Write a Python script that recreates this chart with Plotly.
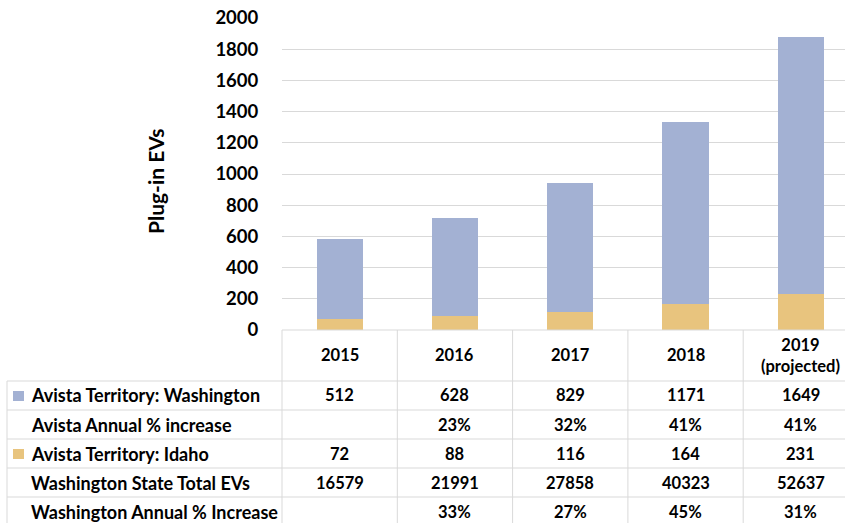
import plotly.graph_objects as go

# ---- data ----
years = ["2015", "2016", "2017", "2018", "2019"]
year_labels = ["2015", "2016", "2017", "2018", "2019<br>(projected)"]
avista_wa = [512, 628, 829, 1171, 1649]
avista_pct = ["", "23%", "32%", "41%", "41%"]
avista_id = [72, 88, 116, 164, 231]
wa_state_total = [16579, 21991, 27858, 40323, 52637]
wa_state_pct = ["", "33%", "27%", "45%", "31%"]
y_ticks = [0, 200, 400, 600, 800, 1000, 1200, 1400, 1600, 1800, 2000]

row_labels = ["Avista Territory: Washington", "Avista Annual % increase",
              "Avista Territory: Idaho", "Washington State Total EVs",
              "Washington Annual % Increase"]

BLUE = "#A3B1D3"
TAN = "#E8C47E"
GRID = "#D9D9D9"
FONT = "Lato"

W, H = 845, 523
def py(y):
    return 1 - y / H
def px(x):
    return x / W

xs = list(range(len(years)))

fig = go.Figure()
fig.add_trace(go.Bar(x=xs, y=avista_id, marker=dict(color=TAN, line=dict(width=0)),
                     width=0.4, name="Avista Territory: Idaho", showlegend=False,
                     hoverinfo="skip"))
fig.add_trace(go.Bar(x=xs, y=avista_wa, marker=dict(color=BLUE, line=dict(width=0)),
                     width=0.4, name="Avista Territory: Washington", showlegend=False,
                     hoverinfo="skip"))

plot_left = 282
cat_w = 115.3
x_right = (W - (plot_left + cat_w / 2)) / cat_w

fig.update_layout(
    barmode="stack",
    width=W, height=H,
    autosize=False,
    margin=dict(l=0, r=0, t=0, b=0, pad=0),
    paper_bgcolor="white", plot_bgcolor="white",
    font=dict(family=FONT, color="black"),
    xaxis=dict(domain=[px(plot_left), 1], range=[-0.5, x_right], automargin=False,
               showticklabels=False, showgrid=False, zeroline=False,
               showline=False, ticks=""),
    yaxis=dict(domain=[py(330), py(18)], range=[0, 2000], tickvals=y_ticks,
               automargin=False,
               showgrid=True, gridcolor=GRID, gridwidth=1, zeroline=False,
               showline=False, ticks="outside", ticklen=19,
               tickcolor="rgba(0,0,0,0)",
               tickfont=dict(family=FONT, size=18.5, color="black", weight="bold")),
)

shapes = []
line = dict(color=GRID, width=1)
# header top (axis line)
shapes.append(dict(type="line", xref="paper", yref="paper",
                   x0=px(plot_left), x1=1, y0=py(330), y1=py(330), line=line))
# row separators
for yy in [381, 410, 439, 468, 497]:
    shapes.append(dict(type="line", xref="paper", yref="paper",
                       x0=px(7), x1=1, y0=py(yy), y1=py(yy), line=line))
# label column left border
shapes.append(dict(type="line", xref="paper", yref="paper",
                   x0=px(7), x1=px(7), y0=py(381), y1=py(530), line=line))
# column borders
for k in range(len(years)):
    shapes.append(dict(type="line", xref="paper", yref="paper",
                       x0=px(plot_left + k * cat_w), x1=px(plot_left + k * cat_w),
                       y0=py(330), y1=py(530), line=line))
# legend keys
for yc, col in [(396, BLUE), (454, TAN)]:
    shapes.append(dict(type="rect", xref="paper", yref="paper",
                       x0=px(13), x1=px(24), y0=py(yc + 5), y1=py(yc - 5),
                       fillcolor=col, line=dict(width=0)))

ann = []
nf = dict(family=FONT, size=16.5, color="black", weight="bold")
lf = dict(family=FONT, size=18, color="black", weight="bold")
# header
for i, lab in enumerate(year_labels):
    ann.append(dict(x=i, y=py(355), xref="x", yref="paper", text=lab,
                    showarrow=False, font=nf, xanchor="center", yanchor="middle"))
rows = [avista_wa, avista_pct, avista_id, wa_state_total, wa_state_pct]
row_y = [395.5, 424.5, 453.5, 482.5, 511.5]
for r, (vals, yc) in enumerate(zip(rows, row_y)):
    ann.append(dict(x=px(29), y=py(yc), xref="paper", yref="paper", text=row_labels[r],
                    showarrow=False, font=lf, xanchor="left", yanchor="middle"))
    for i, v in enumerate(vals):
        ann.append(dict(x=i, y=py(yc), xref="x", yref="paper", text=str(v),
                        showarrow=False, font=nf, xanchor="center", yanchor="middle"))
# y-axis title
ann.append(dict(x=px(155), y=py(181), xref="paper", yref="paper", text="Plug-in EVs",
                textangle=-90, showarrow=False,
                font=dict(family=FONT, size=21, color="black", weight="bold"),
                xanchor="center", yanchor="middle"))

fig.update_layout(shapes=shapes, annotations=ann)
fig.write_html("out.html",
               config={"displayModeBar": False, "staticPlot": True},
               post_script="document.body.style.margin='0px';document.body.style.overflow='hidden';")
